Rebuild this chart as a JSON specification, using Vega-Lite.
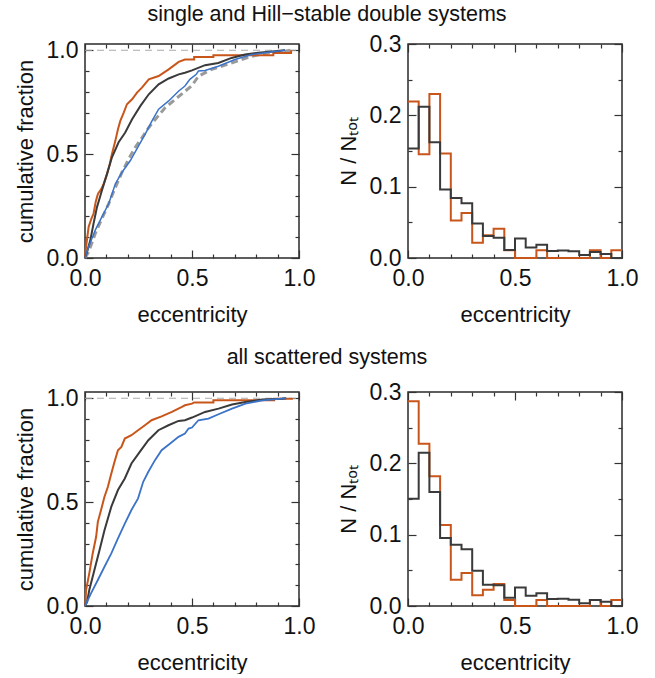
{
"$schema": "https://vega.github.io/schema/vega-lite/v6.json",
"background": "white",
"padding": {"left": 13, "top": 2, "right": 0, "bottom": 0},
"autosize": {"type": "pad"},
"columns": 2,
"spacing": {"row": 134, "column": 109},
"bounds": "flush",
"datasets": {
"ref": [{"e": 0, "f": 1}, {"e": 1, "f": 1}],
"cdf": [
{"p":"top","s":"disc","e":0,"f":0},{"p":"top","s":"disc","e":0.002,"f":0.03},{"p":"top","s":"disc","e":0.005,"f":0.054},{"p":"top","s":"disc","e":0.017,"f":0.15},{"p":"top","s":"disc","e":0.03,"f":0.19},{"p":"top","s":"disc","e":0.04,"f":0.214},{"p":"top","s":"disc","e":0.05,"f":0.27},{"p":"top","s":"disc","e":0.056,"f":0.293},{"p":"top","s":"disc","e":0.061,"f":0.309},{"p":"top","s":"disc","e":0.075,"f":0.33},{"p":"top","s":"disc","e":0.087,"f":0.357},{"p":"top","s":"disc","e":0.103,"f":0.405},{"p":"top","s":"disc","e":0.115,"f":0.45},{"p":"top","s":"disc","e":0.126,"f":0.501},{"p":"top","s":"disc","e":0.142,"f":0.565},{"p":"top","s":"disc","e":0.154,"f":0.62},{"p":"top","s":"disc","e":0.165,"f":0.66},{"p":"top","s":"disc","e":0.181,"f":0.7},{"p":"top","s":"disc","e":0.196,"f":0.74},{"p":"top","s":"disc","e":0.22,"f":0.764},{"p":"top","s":"disc","e":0.243,"f":0.796},{"p":"top","s":"disc","e":0.266,"f":0.82},{"p":"top","s":"disc","e":0.298,"f":0.86},{"p":"top","s":"disc","e":0.344,"f":0.876},{"p":"top","s":"disc","e":0.391,"f":0.908},{"p":"top","s":"disc","e":0.438,"f":0.944},{"p":"top","s":"disc","e":0.467,"f":0.955},{"p":"top","s":"disc","e":0.51,"f":0.955},{"p":"top","s":"disc","e":0.51,"f":0.967},{"p":"top","s":"disc","e":0.6,"f":0.967},{"p":"top","s":"disc","e":0.6,"f":0.976},{"p":"top","s":"disc","e":0.88,"f":0.976},{"p":"top","s":"disc","e":0.88,"f":0.987},{"p":"top","s":"disc","e":0.963,"f":0.987},{"p":"top","s":"disc","e":0.963,"f":1.0},
{"p":"top","s":"nodisc","e":0,"f":0},{"p":"top","s":"nodisc","e":0.01,"f":0.03},{"p":"top","s":"nodisc","e":0.025,"f":0.086},{"p":"top","s":"nodisc","e":0.04,"f":0.166},{"p":"top","s":"nodisc","e":0.056,"f":0.245},{"p":"top","s":"nodisc","e":0.079,"f":0.325},{"p":"top","s":"nodisc","e":0.103,"f":0.405},{"p":"top","s":"nodisc","e":0.126,"f":0.485},{"p":"top","s":"nodisc","e":0.157,"f":0.557},{"p":"top","s":"nodisc","e":0.188,"f":0.604},{"p":"top","s":"nodisc","e":0.22,"f":0.668},{"p":"top","s":"nodisc","e":0.259,"f":0.732},{"p":"top","s":"nodisc","e":0.298,"f":0.788},{"p":"top","s":"nodisc","e":0.344,"f":0.836},{"p":"top","s":"nodisc","e":0.391,"f":0.864},{"p":"top","s":"nodisc","e":0.438,"f":0.884},{"p":"top","s":"nodisc","e":0.467,"f":0.892},{"p":"top","s":"nodisc","e":0.5,"f":0.903},{"p":"top","s":"nodisc","e":0.561,"f":0.928},{"p":"top","s":"nodisc","e":0.623,"f":0.939},{"p":"top","s":"nodisc","e":0.685,"f":0.963},{"p":"top","s":"nodisc","e":0.748,"f":0.979},{"p":"top","s":"nodisc","e":0.81,"f":0.988},{"p":"top","s":"nodisc","e":0.888,"f":0.995},{"p":"top","s":"nodisc","e":0.935,"f":1.0},
{"p":"top","s":"obs","e":0,"f":0},{"p":"top","s":"obs","e":0.017,"f":0.054},{"p":"top","s":"obs","e":0.048,"f":0.134},{"p":"top","s":"obs","e":0.079,"f":0.198},{"p":"top","s":"obs","e":0.111,"f":0.262},{"p":"top","s":"obs","e":0.142,"f":0.357},{"p":"top","s":"obs","e":0.173,"f":0.413},{"p":"top","s":"obs","e":0.212,"f":0.469},{"p":"top","s":"obs","e":0.251,"f":0.541},{"p":"top","s":"obs","e":0.282,"f":0.597},{"p":"top","s":"obs","e":0.313,"f":0.66},{"p":"top","s":"obs","e":0.344,"f":0.716},{"p":"top","s":"obs","e":0.391,"f":0.756},{"p":"top","s":"obs","e":0.438,"f":0.804},{"p":"top","s":"obs","e":0.467,"f":0.828},{"p":"top","s":"obs","e":0.49,"f":0.86},{"p":"top","s":"obs","e":0.52,"f":0.884},{"p":"top","s":"obs","e":0.53,"f":0.9},{"p":"top","s":"obs","e":0.561,"f":0.903},{"p":"top","s":"obs","e":0.623,"f":0.923},{"p":"top","s":"obs","e":0.701,"f":0.955},{"p":"top","s":"obs","e":0.779,"f":0.979},{"p":"top","s":"obs","e":0.857,"f":0.99},{"p":"top","s":"obs","e":0.935,"f":1.0},
{"p":"top","s":"model","e":0,"f":0},{"p":"top","s":"model","e":0.017,"f":0.03},{"p":"top","s":"model","e":0.048,"f":0.118},{"p":"top","s":"model","e":0.079,"f":0.19},{"p":"top","s":"model","e":0.111,"f":0.262},{"p":"top","s":"model","e":0.142,"f":0.34},{"p":"top","s":"model","e":0.173,"f":0.413},{"p":"top","s":"model","e":0.204,"f":0.477},{"p":"top","s":"model","e":0.235,"f":0.533},{"p":"top","s":"model","e":0.267,"f":0.58},{"p":"top","s":"model","e":0.298,"f":0.628},{"p":"top","s":"model","e":0.329,"f":0.668},{"p":"top","s":"model","e":0.375,"f":0.724},{"p":"top","s":"model","e":0.422,"f":0.764},{"p":"top","s":"model","e":0.469,"f":0.804},{"p":"top","s":"model","e":0.5,"f":0.83},{"p":"top","s":"model","e":0.53,"f":0.875},{"p":"top","s":"model","e":0.592,"f":0.908},{"p":"top","s":"model","e":0.654,"f":0.928},{"p":"top","s":"model","e":0.717,"f":0.95},{"p":"top","s":"model","e":0.779,"f":0.971},{"p":"top","s":"model","e":0.857,"f":0.987},{"p":"top","s":"model","e":0.935,"f":0.995},{"p":"top","s":"model","e":0.96,"f":1.0},
{"p":"bot","s":"disc","e":0,"f":0},{"p":"bot","s":"disc","e":0.002,"f":0.013},{"p":"bot","s":"disc","e":0.005,"f":0.077},{"p":"bot","s":"disc","e":0.02,"f":0.157},{"p":"bot","s":"disc","e":0.036,"f":0.253},{"p":"bot","s":"disc","e":0.052,"f":0.333},{"p":"bot","s":"disc","e":0.06,"f":0.405},{"p":"bot","s":"disc","e":0.075,"f":0.462},{"p":"bot","s":"disc","e":0.091,"f":0.526},{"p":"bot","s":"disc","e":0.107,"f":0.574},{"p":"bot","s":"disc","e":0.123,"f":0.638},{"p":"bot","s":"disc","e":0.138,"f":0.694},{"p":"bot","s":"disc","e":0.154,"f":0.75},{"p":"bot","s":"disc","e":0.17,"f":0.766},{"p":"bot","s":"disc","e":0.186,"f":0.806},{"p":"bot","s":"disc","e":0.217,"f":0.822},{"p":"bot","s":"disc","e":0.248,"f":0.846},{"p":"bot","s":"disc","e":0.28,"f":0.87},{"p":"bot","s":"disc","e":0.311,"f":0.894},{"p":"bot","s":"disc","e":0.358,"f":0.913},{"p":"bot","s":"disc","e":0.406,"f":0.934},{"p":"bot","s":"disc","e":0.453,"f":0.958},{"p":"bot","s":"disc","e":0.467,"f":0.966},{"p":"bot","s":"disc","e":0.5,"f":0.974},{"p":"bot","s":"disc","e":0.51,"f":0.98},{"p":"bot","s":"disc","e":0.6,"f":0.98},{"p":"bot","s":"disc","e":0.6,"f":0.99},{"p":"bot","s":"disc","e":0.884,"f":0.99},{"p":"bot","s":"disc","e":0.884,"f":0.998},{"p":"bot","s":"disc","e":0.967,"f":0.998},{"p":"bot","s":"disc","e":0.967,"f":1.0},
{"p":"bot","s":"nodisc","e":0,"f":0},{"p":"bot","s":"nodisc","e":0.01,"f":0.02},{"p":"bot","s":"nodisc","e":0.02,"f":0.077},{"p":"bot","s":"nodisc","e":0.044,"f":0.173},{"p":"bot","s":"nodisc","e":0.068,"f":0.269},{"p":"bot","s":"nodisc","e":0.091,"f":0.365},{"p":"bot","s":"nodisc","e":0.123,"f":0.478},{"p":"bot","s":"nodisc","e":0.154,"f":0.558},{"p":"bot","s":"nodisc","e":0.186,"f":0.614},{"p":"bot","s":"nodisc","e":0.217,"f":0.686},{"p":"bot","s":"nodisc","e":0.256,"f":0.742},{"p":"bot","s":"nodisc","e":0.296,"f":0.798},{"p":"bot","s":"nodisc","e":0.343,"f":0.846},{"p":"bot","s":"nodisc","e":0.39,"f":0.87},{"p":"bot","s":"nodisc","e":0.437,"f":0.891},{"p":"bot","s":"nodisc","e":0.467,"f":0.894},{"p":"bot","s":"nodisc","e":0.5,"f":0.907},{"p":"bot","s":"nodisc","e":0.561,"f":0.934},{"p":"bot","s":"nodisc","e":0.624,"f":0.95},{"p":"bot","s":"nodisc","e":0.687,"f":0.97},{"p":"bot","s":"nodisc","e":0.75,"f":0.982},{"p":"bot","s":"nodisc","e":0.829,"f":0.994},{"p":"bot","s":"nodisc","e":0.92,"f":0.998},{"p":"bot","s":"nodisc","e":0.94,"f":1.0},
{"p":"bot","s":"obs","e":0,"f":0},{"p":"bot","s":"obs","e":0.028,"f":0.061},{"p":"bot","s":"obs","e":0.06,"f":0.125},{"p":"bot","s":"obs","e":0.091,"f":0.189},{"p":"bot","s":"obs","e":0.123,"f":0.253},{"p":"bot","s":"obs","e":0.154,"f":0.325},{"p":"bot","s":"obs","e":0.186,"f":0.397},{"p":"bot","s":"obs","e":0.217,"f":0.462},{"p":"bot","s":"obs","e":0.248,"f":0.518},{"p":"bot","s":"obs","e":0.272,"f":0.598},{"p":"bot","s":"obs","e":0.296,"f":0.646},{"p":"bot","s":"obs","e":0.327,"f":0.702},{"p":"bot","s":"obs","e":0.358,"f":0.75},{"p":"bot","s":"obs","e":0.398,"f":0.782},{"p":"bot","s":"obs","e":0.437,"f":0.814},{"p":"bot","s":"obs","e":0.467,"f":0.83},{"p":"bot","s":"obs","e":0.484,"f":0.854},{"p":"bot","s":"obs","e":0.5,"f":0.859},{"p":"bot","s":"obs","e":0.53,"f":0.894},{"p":"bot","s":"obs","e":0.577,"f":0.902},{"p":"bot","s":"obs","e":0.624,"f":0.923},{"p":"bot","s":"obs","e":0.687,"f":0.95},{"p":"bot","s":"obs","e":0.75,"f":0.974},{"p":"bot","s":"obs","e":0.829,"f":0.99},{"p":"bot","s":"obs","e":0.92,"f":0.998},{"p":"bot","s":"obs","e":0.94,"f":1.0}
],
"hist": [
{"p":"top","s":"disc","e":0,"v":0.2195},{"p":"top","s":"disc","e":0.05,"v":0.1455},{"p":"top","s":"disc","e":0.1,"v":0.23},{"p":"top","s":"disc","e":0.15,"v":0.1465},{"p":"top","s":"disc","e":0.2,"v":0.0524},{"p":"top","s":"disc","e":0.25,"v":0.063},{"p":"top","s":"disc","e":0.3,"v":0.0215},{"p":"top","s":"disc","e":0.35,"v":0.0318},{"p":"top","s":"disc","e":0.4,"v":0.041},{"p":"top","s":"disc","e":0.45,"v":0.0108},{"p":"top","s":"disc","e":0.5,"v":0},{"p":"top","s":"disc","e":0.55,"v":0},{"p":"top","s":"disc","e":0.6,"v":0.0108},{"p":"top","s":"disc","e":0.65,"v":0},{"p":"top","s":"disc","e":0.7,"v":0},{"p":"top","s":"disc","e":0.75,"v":0},{"p":"top","s":"disc","e":0.8,"v":0},{"p":"top","s":"disc","e":0.85,"v":0.0108},{"p":"top","s":"disc","e":0.9,"v":0},{"p":"top","s":"disc","e":0.95,"v":0.0108},{"p":"top","s":"disc","e":1.0,"v":0.0108},
{"p":"top","s":"nodisc","e":0,"v":0.1535},{"p":"top","s":"nodisc","e":0.05,"v":0.212},{"p":"top","s":"nodisc","e":0.1,"v":0.1624},{"p":"top","s":"nodisc","e":0.15,"v":0.096},{"p":"top","s":"nodisc","e":0.2,"v":0.0842},{"p":"top","s":"nodisc","e":0.25,"v":0.0767},{"p":"top","s":"nodisc","e":0.3,"v":0.0482},{"p":"top","s":"nodisc","e":0.35,"v":0.0309},{"p":"top","s":"nodisc","e":0.4,"v":0.0285},{"p":"top","s":"nodisc","e":0.45,"v":0.0112},{"p":"top","s":"nodisc","e":0.5,"v":0.0275},{"p":"top","s":"nodisc","e":0.55,"v":0.0148},{"p":"top","s":"nodisc","e":0.6,"v":0.0187},{"p":"top","s":"nodisc","e":0.65,"v":0.0098},{"p":"top","s":"nodisc","e":0.7,"v":0.0105},{"p":"top","s":"nodisc","e":0.75,"v":0.0096},{"p":"top","s":"nodisc","e":0.8,"v":0.0042},{"p":"top","s":"nodisc","e":0.85,"v":0.0084},{"p":"top","s":"nodisc","e":0.9,"v":0.0056},{"p":"top","s":"nodisc","e":0.95,"v":0},{"p":"top","s":"nodisc","e":1.0,"v":0},
{"p":"bot","s":"disc","e":0,"v":0.287},{"p":"bot","s":"disc","e":0.05,"v":0.2276},{"p":"bot","s":"disc","e":0.1,"v":0.1818},{"p":"bot","s":"disc","e":0.15,"v":0.1136},{"p":"bot","s":"disc","e":0.2,"v":0.0369},{"p":"bot","s":"disc","e":0.25,"v":0.0463},{"p":"bot","s":"disc","e":0.3,"v":0.015},{"p":"bot","s":"disc","e":0.35,"v":0.0229},{"p":"bot","s":"disc","e":0.4,"v":0.0308},{"p":"bot","s":"disc","e":0.45,"v":0.0084},{"p":"bot","s":"disc","e":0.5,"v":0},{"p":"bot","s":"disc","e":0.55,"v":0},{"p":"bot","s":"disc","e":0.6,"v":0.0084},{"p":"bot","s":"disc","e":0.65,"v":0},{"p":"bot","s":"disc","e":0.7,"v":0},{"p":"bot","s":"disc","e":0.75,"v":0},{"p":"bot","s":"disc","e":0.8,"v":0},{"p":"bot","s":"disc","e":0.85,"v":0.0084},{"p":"bot","s":"disc","e":0.9,"v":0},{"p":"bot","s":"disc","e":0.95,"v":0.0084},{"p":"bot","s":"disc","e":1.0,"v":0.0084},
{"p":"bot","s":"nodisc","e":0,"v":0.1505},{"p":"bot","s":"nodisc","e":0.05,"v":0.215},{"p":"bot","s":"nodisc","e":0.1,"v":0.1598},{"p":"bot","s":"nodisc","e":0.15,"v":0.0953},{"p":"bot","s":"nodisc","e":0.2,"v":0.086},{"p":"bot","s":"nodisc","e":0.25,"v":0.0794},{"p":"bot","s":"nodisc","e":0.3,"v":0.0495},{"p":"bot","s":"nodisc","e":0.35,"v":0.0299},{"p":"bot","s":"nodisc","e":0.4,"v":0.029},{"p":"bot","s":"nodisc","e":0.45,"v":0.0117},{"p":"bot","s":"nodisc","e":0.5,"v":0.026},{"p":"bot","s":"nodisc","e":0.55,"v":0.0145},{"p":"bot","s":"nodisc","e":0.6,"v":0.0178},{"p":"bot","s":"nodisc","e":0.65,"v":0.0098},{"p":"bot","s":"nodisc","e":0.7,"v":0.0103},{"p":"bot","s":"nodisc","e":0.75,"v":0.0089},{"p":"bot","s":"nodisc","e":0.8,"v":0.0037},{"p":"bot","s":"nodisc","e":0.85,"v":0.0084},{"p":"bot","s":"nodisc","e":0.9,"v":0.006},{"p":"bot","s":"nodisc","e":0.95,"v":0},{"p":"bot","s":"nodisc","e":1.0,"v":0}
]
},
"concat": [
{
"width": 214, "height": 214,
"title": {"text": "single and Hill−stable double systems", "dx": 135, "offset": 14},
"resolve": {"axis": {"x": "independent", "y": "independent"}},
"layer": [
{"data": {"name": "ref"}, "mark": {"type": "line", "color": "#aaaaaa", "strokeWidth": 1.2, "strokeDash": [7, 5]},
 "encoding": {"x": {"field": "e", "type": "quantitative", "scale": {"domain": [0, 1], "nice": false}, "axis": {"orient": "top", "values": [0.1,0.2,0.3,0.4,0.6,0.7,0.8,0.9], "tickSize": -4, "labels": false, "title": null}},
  "y": {"field": "f", "type": "quantitative", "scale": {"domain": [0, 1.03], "nice": false}, "axis": {"orient": "right", "values": [0.1,0.2,0.3,0.4,0.6,0.7,0.8,0.9], "tickSize": -4, "labels": false, "title": null}}}},
{"data": {"name": "cdf"}, "transform": [{"filter": "datum.p==='top' && datum.s==='model'"}], "mark": {"type": "line", "color": "#9a9a9a", "strokeWidth": 3, "strokeDash": [7, 4]},
 "encoding": {"x": {"field": "e", "type": "quantitative", "scale": {"domain": [0, 1], "nice": false}, "axis": null},
  "y": {"field": "f", "type": "quantitative", "scale": {"domain": [0, 1.03], "nice": false}, "axis": null},
  "order": [{"field": "e"}, {"field": "f"}]}},
{"data": {"name": "cdf"}, "transform": [{"filter": "datum.p==='top' && datum.s==='disc'"}], "mark": {"type": "line", "color": "#c8561a", "strokeWidth": 2},
 "encoding": {"x": {"field": "e", "type": "quantitative", "scale": {"domain": [0, 1], "nice": false}, "axis": {"orient": "bottom", "values": [0, 0.5, 1], "format": ".1f", "tickSize": -8, "labelPadding": 17, "title": "eccentricity", "titlePadding": 14}},
  "y": {"field": "f", "type": "quantitative", "scale": {"domain": [0, 1.03], "nice": false}, "axis": {"orient": "left", "values": [0, 0.5, 1], "format": ".1f", "tickSize": -8, "labelPadding": 15, "title": "cumulative fraction", "titlePadding": 9}},
  "order": [{"field": "e"}, {"field": "f"}]}},
{"data": {"name": "cdf"}, "transform": [{"filter": "datum.p==='top' && datum.s==='nodisc'"}], "mark": {"type": "line", "color": "#3a3a3a", "strokeWidth": 2},
 "encoding": {"x": {"field": "e", "type": "quantitative", "scale": {"domain": [0, 1], "nice": false}, "axis": {"orient": "top", "values": [0, 0.5, 1], "tickSize": -8, "labels": false, "title": null}},
  "y": {"field": "f", "type": "quantitative", "scale": {"domain": [0, 1.03], "nice": false}, "axis": {"orient": "right", "values": [0, 0.5, 1], "tickSize": -8, "labels": false, "title": null}},
  "order": [{"field": "e"}, {"field": "f"}]}},
{"data": {"name": "cdf"}, "transform": [{"filter": "datum.p==='top' && datum.s==='obs'"}], "mark": {"type": "line", "color": "#3b73c8", "strokeWidth": 1.5},
 "encoding": {"x": {"field": "e", "type": "quantitative", "scale": {"domain": [0, 1], "nice": false}, "axis": {"orient": "bottom", "values": [0.1,0.2,0.3,0.4,0.6,0.7,0.8,0.9], "tickSize": -4, "labels": false, "title": null}},
  "y": {"field": "f", "type": "quantitative", "scale": {"domain": [0, 1.03], "nice": false}, "axis": {"orient": "left", "values": [0.1,0.2,0.3,0.4,0.6,0.7,0.8,0.9], "tickSize": -4, "labels": false, "title": null}},
  "order": [{"field": "e"}, {"field": "f"}]}},
{"mark": {"type": "text", "text": "disc", "color": "#c8561a", "fontSize": 18, "align": "left", "baseline": "alphabetic"},
 "encoding": {"x": {"datum": 0.5, "type": "quantitative", "scale": {"domain": [0, 1], "nice": false}, "axis": null}, "y": {"datum": 0.37, "type": "quantitative", "scale": {"domain": [0, 1.03], "nice": false}, "axis": null}}},
{"mark": {"type": "text", "text": "no disc", "color": "#3a3a3a", "fontSize": 18, "align": "left", "baseline": "alphabetic"},
 "encoding": {"x": {"datum": 0.5, "type": "quantitative", "scale": {"domain": [0, 1], "nice": false}, "axis": null}, "y": {"datum": 0.268, "type": "quantitative", "scale": {"domain": [0, 1.03], "nice": false}, "axis": null}}},
{"mark": {"type": "text", "text": "observed", "color": "#3b73c8", "fontSize": 18, "align": "left", "baseline": "alphabetic"},
 "encoding": {"x": {"datum": 0.5, "type": "quantitative", "scale": {"domain": [0, 1], "nice": false}, "axis": null}, "y": {"datum": 0.168, "type": "quantitative", "scale": {"domain": [0, 1.03], "nice": false}, "axis": null}}}
]
},
{
"width": 214, "height": 214,
"resolve": {"axis": {"x": "independent", "y": "independent"}},
"layer": [
{"data": {"name": "hist"}, "transform": [{"filter": "datum.p==='top' && datum.s==='disc'"}], "mark": {"type": "line", "color": "#c8561a", "strokeWidth": 2, "interpolate": "step-after"},
 "encoding": {"x": {"field": "e", "type": "quantitative", "scale": {"domain": [0, 1], "nice": false}, "axis": {"orient": "bottom", "values": [0, 0.5, 1], "format": ".1f", "tickSize": -8, "labelPadding": 17, "title": "eccentricity", "titlePadding": 14}},
  "y": {"field": "v", "type": "quantitative", "scale": {"domain": [0, 0.3], "nice": false}, "axis": {"orient": "left", "values": [0, 0.1, 0.2, 0.3], "format": ".1f", "tickSize": -8, "labelPadding": 15, "title": "N / Nₜₒₜ", "titlePadding": 9}}}},
{"data": {"name": "hist"}, "transform": [{"filter": "datum.p==='top' && datum.s==='nodisc'"}], "mark": {"type": "line", "color": "#3a3a3a", "strokeWidth": 2, "interpolate": "step-after"},
 "encoding": {"x": {"field": "e", "type": "quantitative", "scale": {"domain": [0, 1], "nice": false}, "axis": {"orient": "top", "values": [0, 0.5, 1], "tickSize": -8, "labels": false, "title": null}},
  "y": {"field": "v", "type": "quantitative", "scale": {"domain": [0, 0.3], "nice": false}, "axis": {"orient": "right", "values": [0, 0.1, 0.2, 0.3], "tickSize": -8, "labels": false, "title": null}}}},
{"data": {"name": "hist"}, "transform": [{"filter": "datum.p==='top' && datum.s==='disc'"}], "mark": {"type": "line", "strokeOpacity": 0, "interpolate": "step-after"},
 "encoding": {"x": {"field": "e", "type": "quantitative", "scale": {"domain": [0, 1], "nice": false}, "axis": {"orient": "bottom", "values": [0.1,0.2,0.3,0.4,0.6,0.7,0.8,0.9], "tickSize": -4, "labels": false, "title": null}},
  "y": {"field": "v", "type": "quantitative", "scale": {"domain": [0, 0.3], "nice": false}, "axis": {"orient": "left", "values": [0.05, 0.15, 0.25], "tickSize": -4, "labels": false, "title": null}}}},
{"data": {"name": "hist"}, "transform": [{"filter": "datum.p==='top' && datum.s==='nodisc'"}], "mark": {"type": "line", "strokeOpacity": 0, "interpolate": "step-after"},
 "encoding": {"x": {"field": "e", "type": "quantitative", "scale": {"domain": [0, 1], "nice": false}, "axis": {"orient": "top", "values": [0.1,0.2,0.3,0.4,0.6,0.7,0.8,0.9], "tickSize": -4, "labels": false, "title": null}},
  "y": {"field": "v", "type": "quantitative", "scale": {"domain": [0, 0.3], "nice": false}, "axis": {"orient": "right", "values": [0.05, 0.15, 0.25], "tickSize": -4, "labels": false, "title": null}}}}
]
},
{
"width": 214, "height": 214,
"title": {"text": "all scattered systems", "dx": 135, "offset": 19},
"resolve": {"axis": {"x": "independent", "y": "independent"}},
"layer": [
{"data": {"name": "ref"}, "mark": {"type": "line", "color": "#aaaaaa", "strokeWidth": 1.2, "strokeDash": [7, 5]},
 "encoding": {"x": {"field": "e", "type": "quantitative", "scale": {"domain": [0, 1], "nice": false}, "axis": {"orient": "top", "values": [0.1,0.2,0.3,0.4,0.6,0.7,0.8,0.9], "tickSize": -4, "labels": false, "title": null}},
  "y": {"field": "f", "type": "quantitative", "scale": {"domain": [0, 1.03], "nice": false}, "axis": {"orient": "right", "values": [0.1,0.2,0.3,0.4,0.6,0.7,0.8,0.9], "tickSize": -4, "labels": false, "title": null}}}},
{"data": {"name": "cdf"}, "transform": [{"filter": "datum.p==='bot' && datum.s==='disc'"}], "mark": {"type": "line", "color": "#c8561a", "strokeWidth": 2},
 "encoding": {"x": {"field": "e", "type": "quantitative", "scale": {"domain": [0, 1], "nice": false}, "axis": {"orient": "bottom", "values": [0, 0.5, 1], "format": ".1f", "tickSize": -8, "labelPadding": 17, "title": "eccentricity", "titlePadding": 14}},
  "y": {"field": "f", "type": "quantitative", "scale": {"domain": [0, 1.03], "nice": false}, "axis": {"orient": "left", "values": [0, 0.5, 1], "format": ".1f", "tickSize": -8, "labelPadding": 15, "title": "cumulative fraction", "titlePadding": 9}},
  "order": [{"field": "e"}, {"field": "f"}]}},
{"data": {"name": "cdf"}, "transform": [{"filter": "datum.p==='bot' && datum.s==='nodisc'"}], "mark": {"type": "line", "color": "#3a3a3a", "strokeWidth": 2},
 "encoding": {"x": {"field": "e", "type": "quantitative", "scale": {"domain": [0, 1], "nice": false}, "axis": {"orient": "top", "values": [0, 0.5, 1], "tickSize": -8, "labels": false, "title": null}},
  "y": {"field": "f", "type": "quantitative", "scale": {"domain": [0, 1.03], "nice": false}, "axis": {"orient": "right", "values": [0, 0.5, 1], "tickSize": -8, "labels": false, "title": null}},
  "order": [{"field": "e"}, {"field": "f"}]}},
{"data": {"name": "cdf"}, "transform": [{"filter": "datum.p==='bot' && datum.s==='obs'"}], "mark": {"type": "line", "color": "#3b73c8", "strokeWidth": 1.8},
 "encoding": {"x": {"field": "e", "type": "quantitative", "scale": {"domain": [0, 1], "nice": false}, "axis": {"orient": "bottom", "values": [0.1,0.2,0.3,0.4,0.6,0.7,0.8,0.9], "tickSize": -4, "labels": false, "title": null}},
  "y": {"field": "f", "type": "quantitative", "scale": {"domain": [0, 1.03], "nice": false}, "axis": {"orient": "left", "values": [0.1,0.2,0.3,0.4,0.6,0.7,0.8,0.9], "tickSize": -4, "labels": false, "title": null}},
  "order": [{"field": "e"}, {"field": "f"}]}},
{"mark": {"type": "text", "text": "disc", "color": "#c8561a", "fontSize": 18, "align": "left", "baseline": "alphabetic"},
 "encoding": {"x": {"datum": 0.5, "type": "quantitative", "scale": {"domain": [0, 1], "nice": false}, "axis": null}, "y": {"datum": 0.372, "type": "quantitative", "scale": {"domain": [0, 1.03], "nice": false}, "axis": null}}},
{"mark": {"type": "text", "text": "no disc", "color": "#3a3a3a", "fontSize": 18, "align": "left", "baseline": "alphabetic"},
 "encoding": {"x": {"datum": 0.5, "type": "quantitative", "scale": {"domain": [0, 1], "nice": false}, "axis": null}, "y": {"datum": 0.269, "type": "quantitative", "scale": {"domain": [0, 1.03], "nice": false}, "axis": null}}},
{"mark": {"type": "text", "text": "observed", "color": "#3b73c8", "fontSize": 18, "align": "left", "baseline": "alphabetic"},
 "encoding": {"x": {"datum": 0.5, "type": "quantitative", "scale": {"domain": [0, 1], "nice": false}, "axis": null}, "y": {"datum": 0.17, "type": "quantitative", "scale": {"domain": [0, 1.03], "nice": false}, "axis": null}}}
]
},
{
"width": 214, "height": 214,
"resolve": {"axis": {"x": "independent", "y": "independent"}},
"layer": [
{"data": {"name": "hist"}, "transform": [{"filter": "datum.p==='bot' && datum.s==='disc'"}], "mark": {"type": "line", "color": "#c8561a", "strokeWidth": 2, "interpolate": "step-after"},
 "encoding": {"x": {"field": "e", "type": "quantitative", "scale": {"domain": [0, 1], "nice": false}, "axis": {"orient": "bottom", "values": [0, 0.5, 1], "format": ".1f", "tickSize": -8, "labelPadding": 17, "title": "eccentricity", "titlePadding": 14}},
  "y": {"field": "v", "type": "quantitative", "scale": {"domain": [0, 0.3], "nice": false}, "axis": {"orient": "left", "values": [0, 0.1, 0.2, 0.3], "format": ".1f", "tickSize": -8, "labelPadding": 15, "title": "N / Nₜₒₜ", "titlePadding": 9}}}},
{"data": {"name": "hist"}, "transform": [{"filter": "datum.p==='bot' && datum.s==='nodisc'"}], "mark": {"type": "line", "color": "#3a3a3a", "strokeWidth": 2, "interpolate": "step-after"},
 "encoding": {"x": {"field": "e", "type": "quantitative", "scale": {"domain": [0, 1], "nice": false}, "axis": {"orient": "top", "values": [0, 0.5, 1], "tickSize": -8, "labels": false, "title": null}},
  "y": {"field": "v", "type": "quantitative", "scale": {"domain": [0, 0.3], "nice": false}, "axis": {"orient": "right", "values": [0, 0.1, 0.2, 0.3], "tickSize": -8, "labels": false, "title": null}}}},
{"data": {"name": "hist"}, "transform": [{"filter": "datum.p==='bot' && datum.s==='disc'"}], "mark": {"type": "line", "strokeOpacity": 0, "interpolate": "step-after"},
 "encoding": {"x": {"field": "e", "type": "quantitative", "scale": {"domain": [0, 1], "nice": false}, "axis": {"orient": "bottom", "values": [0.1,0.2,0.3,0.4,0.6,0.7,0.8,0.9], "tickSize": -4, "labels": false, "title": null}},
  "y": {"field": "v", "type": "quantitative", "scale": {"domain": [0, 0.3], "nice": false}, "axis": {"orient": "left", "values": [0.05, 0.15, 0.25], "tickSize": -4, "labels": false, "title": null}}}},
{"data": {"name": "hist"}, "transform": [{"filter": "datum.p==='bot' && datum.s==='nodisc'"}], "mark": {"type": "line", "strokeOpacity": 0, "interpolate": "step-after"},
 "encoding": {"x": {"field": "e", "type": "quantitative", "scale": {"domain": [0, 1], "nice": false}, "axis": {"orient": "top", "values": [0.1,0.2,0.3,0.4,0.6,0.7,0.8,0.9], "tickSize": -4, "labels": false, "title": null}},
  "y": {"field": "v", "type": "quantitative", "scale": {"domain": [0, 0.3], "nice": false}, "axis": {"orient": "right", "values": [0.05, 0.15, 0.25], "tickSize": -4, "labels": false, "title": null}}}}
]
}
],
"config": {
"font": "Liberation Sans",
"view": {"stroke": "#2a2a2a", "strokeWidth": 1.5},
"axis": {"domain": false, "grid": false, "tickColor": "#333333", "tickWidth": 1.2, "labelFont": "Liberation Sans", "labelFontSize": 23, "labelColor": "#111111", "labelFlush": false, "labelOverlap": false, "titleFont": "Liberation Sans", "titleFontSize": 22, "titleFontWeight": "normal", "titleColor": "#111111"},
"title": {"font": "Liberation Sans", "fontSize": 21.5, "fontWeight": "normal", "color": "#111111", "anchor": "middle", "frame": "group", "baseline": "alphabetic"}
}
}
